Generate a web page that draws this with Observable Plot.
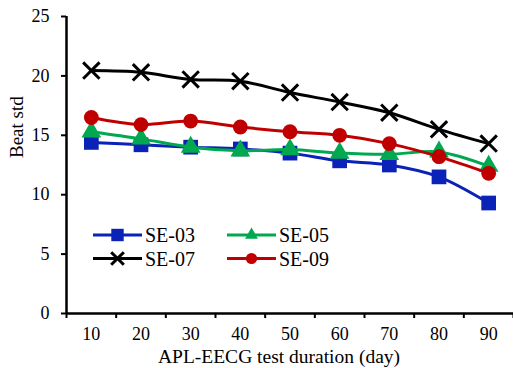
<!DOCTYPE html>
<html><head><meta charset="utf-8">
<script src="https://cdn.jsdelivr.net/npm/d3@7"></script>
<script src="https://cdn.jsdelivr.net/npm/@observablehq/plot@0.6"></script>
<style>
body{margin:0;background:#fff}
#wrap{position:relative;width:513px;height:368px;font-family:"Liberation Serif","Times New Roman",serif}
#legend{position:absolute;left:0;top:0}
</style>
</head><body><div id="wrap"></div>
<script>
// ---- data ----
const days = [10, 20, 30, 40, 50, 60, 70, 80, 90];
const se03 = [14.4, 14.2, 14.0, 13.85, 13.5, 12.85, 12.5, 11.5, 9.3];
const se05 = [15.3, 14.7, 14.0, 13.7, 13.8, 13.5, 13.4, 13.6, 12.4];
const se07 = [20.45, 20.3, 19.7, 19.55, 18.6, 17.8, 16.9, 15.5, 14.3];
const se09 = [16.5, 15.9, 16.2, 15.7, 15.3, 15.0, 14.3, 13.2, 11.8];
const seriesNames = ["SE-03", "SE-05", "SE-07", "SE-09"];
const seriesColors = ["#0A22B8", "#00A84F", "#000000", "#C00000"];
const seriesSymbols = ["square", "triangle", "times", "circle"];
const yTicks = [0, 5, 10, 15, 20, 25];
const xTickMarks = [5, 15, 25, 35, 45, 55, 65, 75, 85, 95];
const xTitle = "APL-EECG test duration (day)";
const yTitle = "Beat std";

const seriesValues = [se03, se05, se07, se09];
const symbolR = {square: 8.3, triangle: 7.3, times: 7.5, circle: 7.4};

const marks = [];
seriesValues.forEach((vals, i) => {
  const data = days.map((d, j) => ({day: d, value: vals[j]}));
  marks.push(Plot.line(data, {x: "day", y: "value", stroke: seriesColors[i], strokeWidth: 3, curve: "catmull-rom"}));
  const sym = seriesSymbols[i];
  if (sym === "times") {
    marks.push(Plot.dot(data, {x: "day", y: "value", symbol: sym, r: symbolR[sym], stroke: seriesColors[i], strokeWidth: 3, fill: "none"}));
  } else {
    marks.push(Plot.dot(data, {x: "day", y: "value", symbol: sym, r: symbolR[sym], fill: seriesColors[i], stroke: "none"}));
  }
});

const chart = Plot.plot({
  width: 513,
  height: 368,
  marginLeft: 66,
  marginRight: 0,
  marginTop: 16,
  marginBottom: 55,
  style: {fontFamily: '"Liberation Serif", "Times New Roman", serif', fontSize: "18px", color: "#000", background: "#fff"},
  x: {domain: [5, 95]},
  y: {domain: [0, 25]},
  marks: [
    Plot.axisY({ticks: yTicks, tickSize: 5, tickPadding: 12, strokeWidth: 2, fontSize: 18, label: null}),
    Plot.axisX({ticks: xTickMarks, tickSize: 5, strokeWidth: 2, tickFormat: () => "", label: null}),
    Plot.axisX({ticks: days, tickSize: 0, tickPadding: 14, fontSize: 18, label: null}),
    Plot.ruleY([0], {strokeWidth: 2.5}),
    Plot.ruleX([5], {strokeWidth: 2.5}),
    ...marks,
    Plot.text([xTitle], {frameAnchor: "bottom", lineAnchor: "middle", dx: -11, dy: 43, fontSize: 19.5, text: d => d}),
    Plot.text([yTitle], {frameAnchor: "left", lineAnchor: "middle", rotate: -90, dx: -50, dy: -7, fontSize: 19, text: d => d})
  ]
});
document.getElementById("wrap").appendChild(chart);

// ---- legend (overlay inside plot area) ----
const legendSvg = d3.select("#wrap").append("svg").attr("id", "legend")
  .attr("width", 513).attr("height", 368);
const d3Sym = {square: d3.symbolSquare, triangle: d3.symbolTriangle, times: d3.symbolTimes, circle: d3.symbolCircle};
const legR = {square: 7, triangle: 4.8, times: 5.8, circle: 5.6};
seriesNames.forEach((name, i) => {
  const col = i % 2, row = Math.floor(i / 2);
  const x0 = 93 + col * 134, y0 = 235 + row * 23.5;
  const g = legendSvg.append("g").attr("transform", `translate(${x0},${y0})`);
  g.append("line").attr("x1", 0).attr("x2", 49).attr("y1", 0).attr("y2", 0)
    .attr("stroke", seriesColors[i]).attr("stroke-width", 3);
  const sym = seriesSymbols[i];
  const p = g.append("path").attr("transform", "translate(24.5,0)")
    .attr("d", d3.symbol(d3Sym[sym], Math.PI * legR[sym] * legR[sym])());
  if (sym === "times") p.attr("fill", "none").attr("stroke", seriesColors[i]).attr("stroke-width", 3);
  else p.attr("fill", seriesColors[i]);
  g.append("text").attr("x", 52).attr("y", 0).attr("dy", "0.35em")
    .attr("font-size", 20).attr("font-family", '"Liberation Serif", "Times New Roman", serif')
    .text(name);
});
</script>
</body></html>
